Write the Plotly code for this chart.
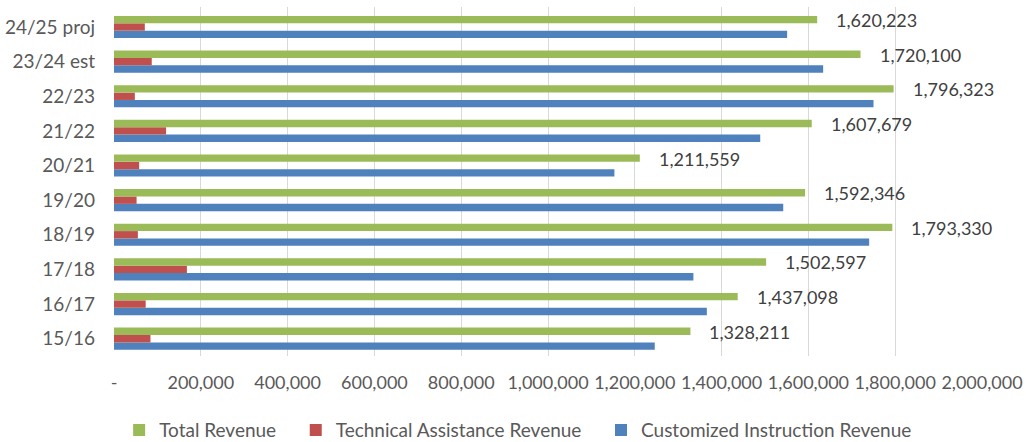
import plotly.graph_objects as go

# Fiscal years, bottom to top
years = ["15/16", "16/17", "17/18", "18/19", "19/20", "20/21", "21/22", "22/23", "23/24 est", "24/25 proj"]

total_revenue = [1328211, 1437098, 1502597, 1793330, 1592346, 1211559, 1607679, 1796323, 1720100, 1620223]
technical_assistance = [84000, 73000, 168000, 55000, 52000, 58000, 120000, 48000, 87000, 71000]
customized_instruction = [1246000, 1366000, 1335000, 1740000, 1542000, 1153000, 1489000, 1750000, 1634000, 1551000]

tick_vals = [0, 200000, 400000, 600000, 800000, 1000000, 1200000, 1400000, 1600000, 1800000, 2000000]
tick_text = ["-", "200,000", "400,000", "600,000", "800,000", "1,000,000", "1,200,000",
             "1,400,000", "1,600,000", "1,800,000", "2,000,000"]

GREEN = "#9bbb59"
RED = "#c0504d"
BLUE = "#4f81bd"
FONT = "Lato"
PAD = "\u00a0" * 3  # extra room between legend entries

fig = go.Figure()
# Trace order puts Customized at the bottom of each group and Total on top
fig.add_trace(go.Bar(y=years, x=customized_instruction, orientation="h",
                     name="Customized Instruction Revenue", marker_color=BLUE,
                     marker_line_width=0))
fig.add_trace(go.Bar(y=years, x=technical_assistance, orientation="h",
                     name="Technical Assistance Revenue" + PAD, marker_color=RED,
                     marker_line_width=0))
fig.add_trace(go.Bar(y=years, x=total_revenue, orientation="h",
                     name="Total Revenue" + PAD, marker_color=GREEN,
                     marker_line_width=0))

# Value labels beside the Total Revenue bars
for yr, val in zip(years, total_revenue):
    fig.add_annotation(x=val, y=yr, text=f"{val:,}", showarrow=False,
                       xanchor="left", yanchor="middle", xshift=17, yshift=7,
                       font=dict(family=FONT, size=18, color="#404040"))

fig.update_layout(
    width=1026, height=442,
    margin=dict(l=114, r=44, t=7, b=86, autoexpand=False),
    paper_bgcolor="white", plot_bgcolor="white",
    barmode="group", bargap=0.36, bargroupgap=0,
    font=dict(family=FONT, color="#595959"),
    showlegend=True,
    legend=dict(orientation="h", traceorder="reversed",
                x=0.505, xanchor="center", xref="container",
                y=0.027, yanchor="middle", yref="container",
                font=dict(family=FONT, size=19, color="#595959"),
                itemwidth=30, tracegroupgap=0),
)
fig.update_xaxes(range=[0, 2000000], tickvals=tick_vals, ticktext=tick_text,
                 showgrid=True, gridcolor="#d9d9d9", gridwidth=1,
                 zeroline=False, showline=False, ticks="",
                 ticklabelstandoff=14,
                 tickfont=dict(family=FONT, size=18, color="#595959"))
fig.update_yaxes(showgrid=False, zeroline=False, showline=False, ticks="",
                 ticklabelstandoff=18,
                 tickfont=dict(family=FONT, size=19, color="#595959"))

fig.write_html("out.html")
